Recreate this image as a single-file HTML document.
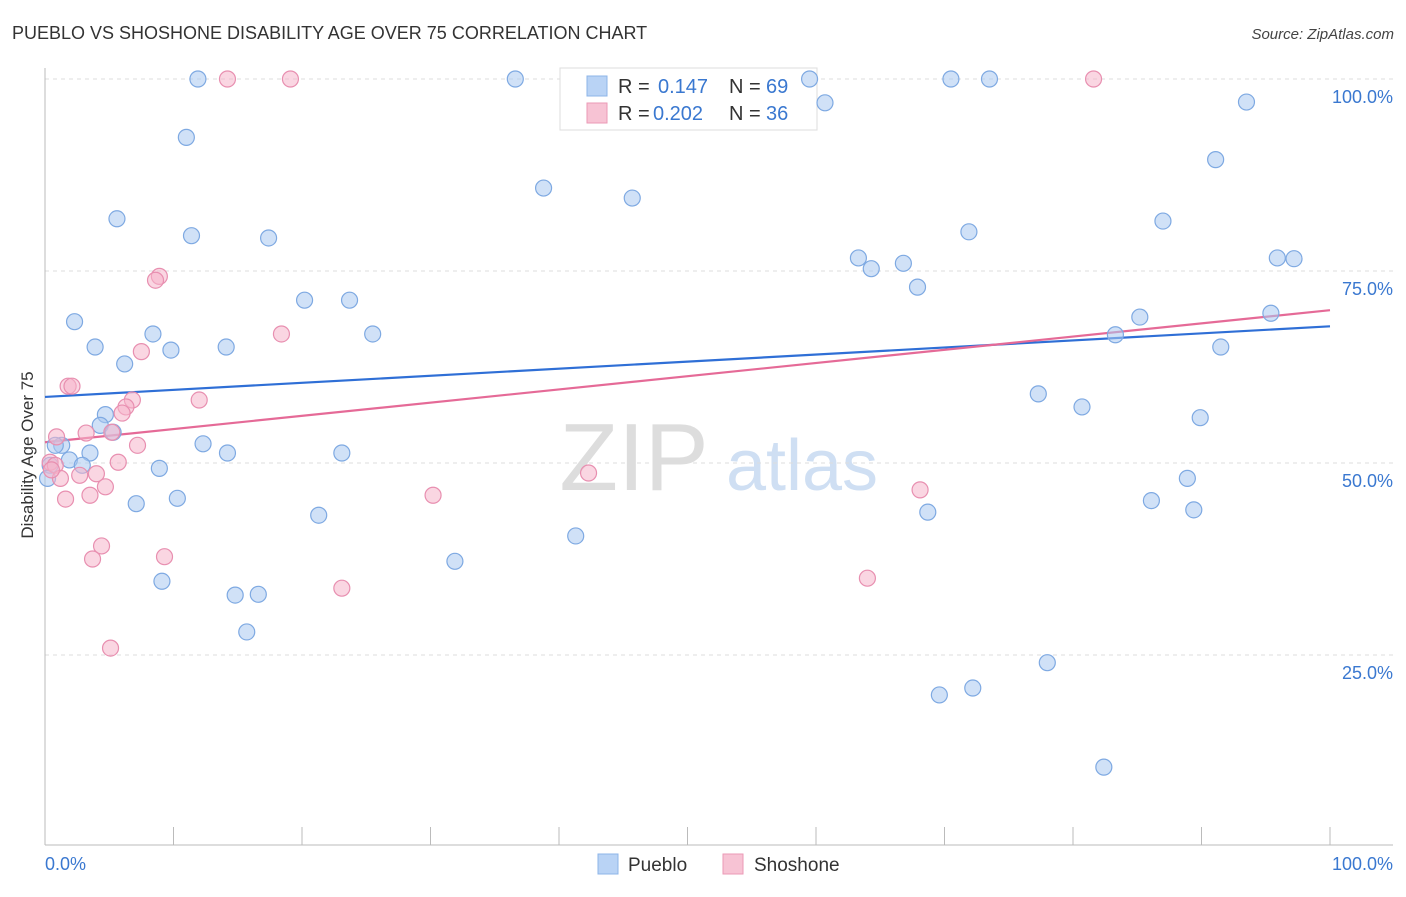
<!DOCTYPE html>
<html><head><meta charset="utf-8"><style>
body{margin:0;background:#fff;font-family:"Liberation Sans",sans-serif;}
svg text{font-family:"Liberation Sans",sans-serif;}
</style></head><body>
<svg id="chart" width="1406" height="892" xmlns="http://www.w3.org/2000/svg">
<text x="12" y="39" font-size="18" fill="#333">PUEBLO VS SHOSHONE DISABILITY AGE OVER 75 CORRELATION CHART</text>
<text x="1394" y="39" font-size="15" fill="#444" font-style="italic" text-anchor="end">Source: ZipAtlas.com</text>
<text transform="translate(33,455) rotate(-90)" font-size="17" fill="#333" text-anchor="middle">Disability Age Over 75</text>
<g><text x="634" y="490" font-size="96" fill="#ddd" font-family="Liberation Serif" text-anchor="middle">ZIP</text><text x="802" y="490" font-size="72" fill="#cfdff3" text-anchor="middle">atlas</text></g>
<g id="grid"></g><g id="axes"></g><g id="trends"></g>
<g>
<rect x="560" y="68" width="257" height="62" fill="#fff" stroke="#ddd"/>
<rect x="587" y="76" width="20" height="20" fill="#b9d3f5" stroke="#8db4e8"/>
<text x="618" y="93" font-size="20" fill="#333">R = </text><text x="658" y="93" font-size="20" fill="#3a78d0">0.147</text>
<text x="729" y="93" font-size="20" fill="#333">N = </text><text x="766" y="93" font-size="20" fill="#3a78d0">69</text>
<rect x="587" y="103" width="20" height="20" fill="#f7c3d4" stroke="#eb9ab6"/>
<text x="618" y="120" font-size="20" fill="#333">R = </text><text x="653" y="120" font-size="20" fill="#3a78d0">0.202</text>
<text x="729" y="120" font-size="20" fill="#333">N = </text><text x="766" y="120" font-size="20" fill="#3a78d0">36</text>
</g>
<g id="pts"></g>
<g>
<rect x="598" y="854" width="20" height="20" fill="#b9d3f5" stroke="#8db4e8"/><text x="628" y="871" font-size="19" fill="#333">Pueblo</text>
<rect x="723" y="854" width="20" height="20" fill="#f7c3d4" stroke="#eb9ab6"/><text x="754" y="871" font-size="19" fill="#333">Shoshone</text>
</g>
<text x="45" y="870" font-size="18" fill="#3a78d0">0.0%</text>
<text x="1393" y="870" font-size="18" fill="#3a78d0" text-anchor="end">100.0%</text>
</svg>
<script>
const yTicks=[100,75,50,25];
const yTickLabels=["100.0%","75.0%","50.0%","25.0%"];
const xTicks=[0,10,20,30,40,50,60,70,80,90,100];
const puebloX=[11.9,36.6,59.5,70.5,73.5,60.7,93.5,11.0,91.1,38.8,45.7,5.6,87.0,11.4,17.4,71.9,63.3,64.3,66.8,95.9,97.2,67.9,20.2,23.7,2.3,8.4,25.5,3.9,9.8,14.1,85.2,83.3,95.4,91.5,6.2,77.3,80.7,4.7,89.9,4.3,5.3,1.3,0.8,12.3,3.5,14.2,23.1,1.9,2.9,8.9,0.4,0.2,88.9,10.3,86.1,7.1,68.7,89.4,21.3,41.3,31.9,9.1,14.8,16.6,15.7,78.0,69.6,72.2,82.4];
const puebloY=[100,100,100,100,100,96.9,97.0,92.4,89.5,85.8,84.5,81.8,81.5,79.6,79.3,80.1,76.7,75.3,76.0,76.7,76.6,72.9,71.2,71.2,68.4,66.8,66.8,65.1,64.7,65.1,69.0,66.7,69.5,65.1,62.9,59.0,57.3,56.3,55.9,54.9,54.0,52.3,52.3,52.5,51.3,51.3,51.3,50.4,49.7,49.3,49.7,48.0,48.0,45.4,45.1,44.7,43.6,43.9,43.2,40.5,37.2,34.6,32.8,32.9,28.0,24.0,19.8,20.7,10.4];
const shoX=[14.2,19.1,81.6,8.9,8.6,18.4,7.5,1.8,2.1,6.8,12.0,6.3,6.0,0.9,3.2,5.2,7.2,0.4,0.8,5.7,1.2,2.7,4.0,4.7,1.6,3.5,30.2,42.3,68.1,4.4,3.7,9.3,23.1,64.0,5.1,0.5];
const shoY=[100,100,100,74.3,73.8,66.8,64.5,60.0,60.0,58.2,58.2,57.3,56.5,53.4,53.9,54.0,52.3,50.1,49.7,50.1,48.0,48.4,48.6,46.9,45.3,45.8,45.8,48.7,46.5,39.2,37.5,37.8,33.7,35.0,25.9,49.1];
const puebloTrend=[58.6,67.8];
const shoTrend=[52.7,69.9];
const NS="http://www.w3.org/2000/svg";
const X=v=>45+v*12.85, Y=v=>847-v*7.68;
function mk(p,t,a){const e=document.createElementNS(NS,t);for(const k in a)e.setAttribute(k,a[k]);p.appendChild(e);return e;}
const grid=document.getElementById('grid'),axes=document.getElementById('axes'),tr=document.getElementById('trends'),pts=document.getElementById('pts');
yTicks.forEach((v,i)=>{const l=mk(grid,'line',{x1:45,x2:1393,y1:Y(v),y2:Y(v),stroke:'#ddd','stroke-dasharray':'4,4'});


const t=mk(grid,'text',{x:1393,y:Y(v)+24,'font-size':18,fill:'#3a78d0','text-anchor':'end'});t.textContent=yTickLabels[i];

});
const ax=mk(axes,'line',{x1:45,x2:1393,y1:845,y2:845,stroke:'#bbb'});


const ay=mk(axes,'line',{x1:45,x2:45,y1:68,y2:845,stroke:'#bbb'});


xTicks.forEach(v=>{const t=mk(axes,'line',{x1:X(v),x2:X(v),y1:827,y2:845,stroke:'#bbb'});

});
function dots(xs,ys,fill,stroke,name){xs.forEach((x,i)=>{const c=mk(pts,'circle',{cx:X(x),cy:Y(ys[i]),r:8,fill:fill,'fill-opacity':0.55,stroke:stroke,'stroke-width':1.2});

});}
dots(puebloX,puebloY,'#a9c8f0','#7ea9e2','pueblo-point');
dots(shoX,shoY,'#f5b5ca','#e88fb0','shoshone-point');
const t1=mk(tr,'line',{x1:X(0),y1:Y(puebloTrend[0]),x2:X(100),y2:Y(puebloTrend[1]),stroke:'#2f6fd6','stroke-width':2.2});


const t2=mk(tr,'line',{x1:X(0),y1:Y(shoTrend[0]),x2:X(100),y2:Y(shoTrend[1]),stroke:'#e56a97','stroke-width':2.2});


</script>
</body></html>
